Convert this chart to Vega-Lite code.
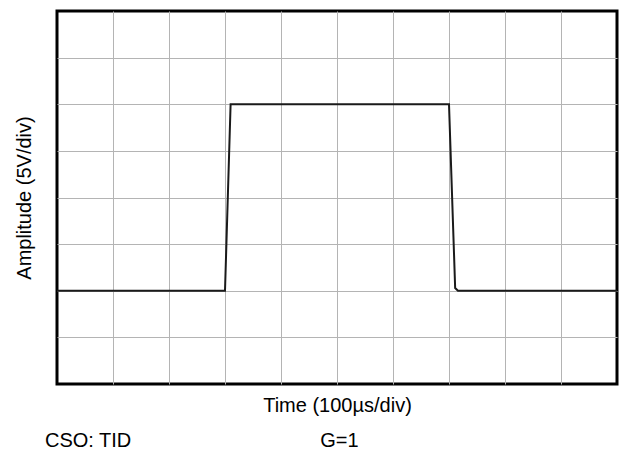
{
  "$schema": "https://vega.github.io/schema/vega-lite/v6.json",
  "autosize": {"type": "none"},
  "width": 560,
  "height": 373,
  "padding": {"left": 57, "top": 11, "right": 2, "bottom": 66},
  "background": "white",
  "config": {
    "font": "Liberation Sans"
  },
  "view": {"stroke": "#000000", "strokeWidth": 3, "strokeOpacity": 1},
  "title": {
    "text": "CSO: TID\u00a0\u00a0\u00a0\u00a0\u00a0\u00a0\u00a0\u00a0\u00a0\u00a0\u00a0\u00a0\u00a0\u00a0\u00a0\u00a0\u00a0\u00a0\u00a0\u00a0\u00a0\u00a0\u00a0\u00a0\u00a0\u00a0\u00a0\u00a0\u00a0\u00a0\u00a0\u00a0\u00a0\u00a0G=1",
    "orient": "bottom",
    "anchor": "start",
    "frame": "group",
    "font": "Liberation Sans",
    "fontSize": 20,
    "fontWeight": "normal",
    "color": "black",
    "baseline": "middle",
    "dx": -12,
    "offset": 26
  },
  "data": {
    "values": [
      {"t": 0, "v": 0},
      {"t": 300, "v": 0},
      {"t": 310, "v": 20},
      {"t": 700, "v": 20},
      {"t": 711, "v": 0.3},
      {"t": 716, "v": 0},
      {"t": 1000, "v": 0}
    ]
  },
  "mark": {"type": "line", "color": "#1a1a1a", "strokeWidth": 2, "clip": true},
  "encoding": {
    "x": {
      "field": "t",
      "type": "quantitative",
      "scale": {"domain": [0, 1000], "nice": false, "zero": false},
      "axis": {
        "title": "Time (100µs/div)",
        "values": [100, 200, 300, 400, 500, 600, 700, 800, 900],
        "labels": false,
        "ticks": false,
        "domain": false,
        "grid": true,
        "gridColor": "#b4b4b4",
        "gridWidth": 1,
        "gridOpacity": 1,
        "titleFont": "Liberation Sans",
        "titleFontSize": 20,
        "titleFontWeight": "normal",
        "titleColor": "black",
        "titleBaseline": "middle",
        "titleY": 21
      }
    },
    "y": {
      "field": "v",
      "type": "quantitative",
      "scale": {"domain": [-10, 30], "nice": false, "zero": false},
      "axis": {
        "title": "Amplitude (5V/div)",
        "values": [-5, 0, 5, 10, 15, 20, 25],
        "labels": false,
        "ticks": false,
        "domain": false,
        "grid": true,
        "gridColor": "#b4b4b4",
        "gridWidth": 1,
        "gridOpacity": 1,
        "titleFont": "Liberation Sans",
        "titleFontSize": 20,
        "titleFontWeight": "normal",
        "titleColor": "black",
        "titleBaseline": "middle",
        "titleX": -33
      }
    }
  }
}
